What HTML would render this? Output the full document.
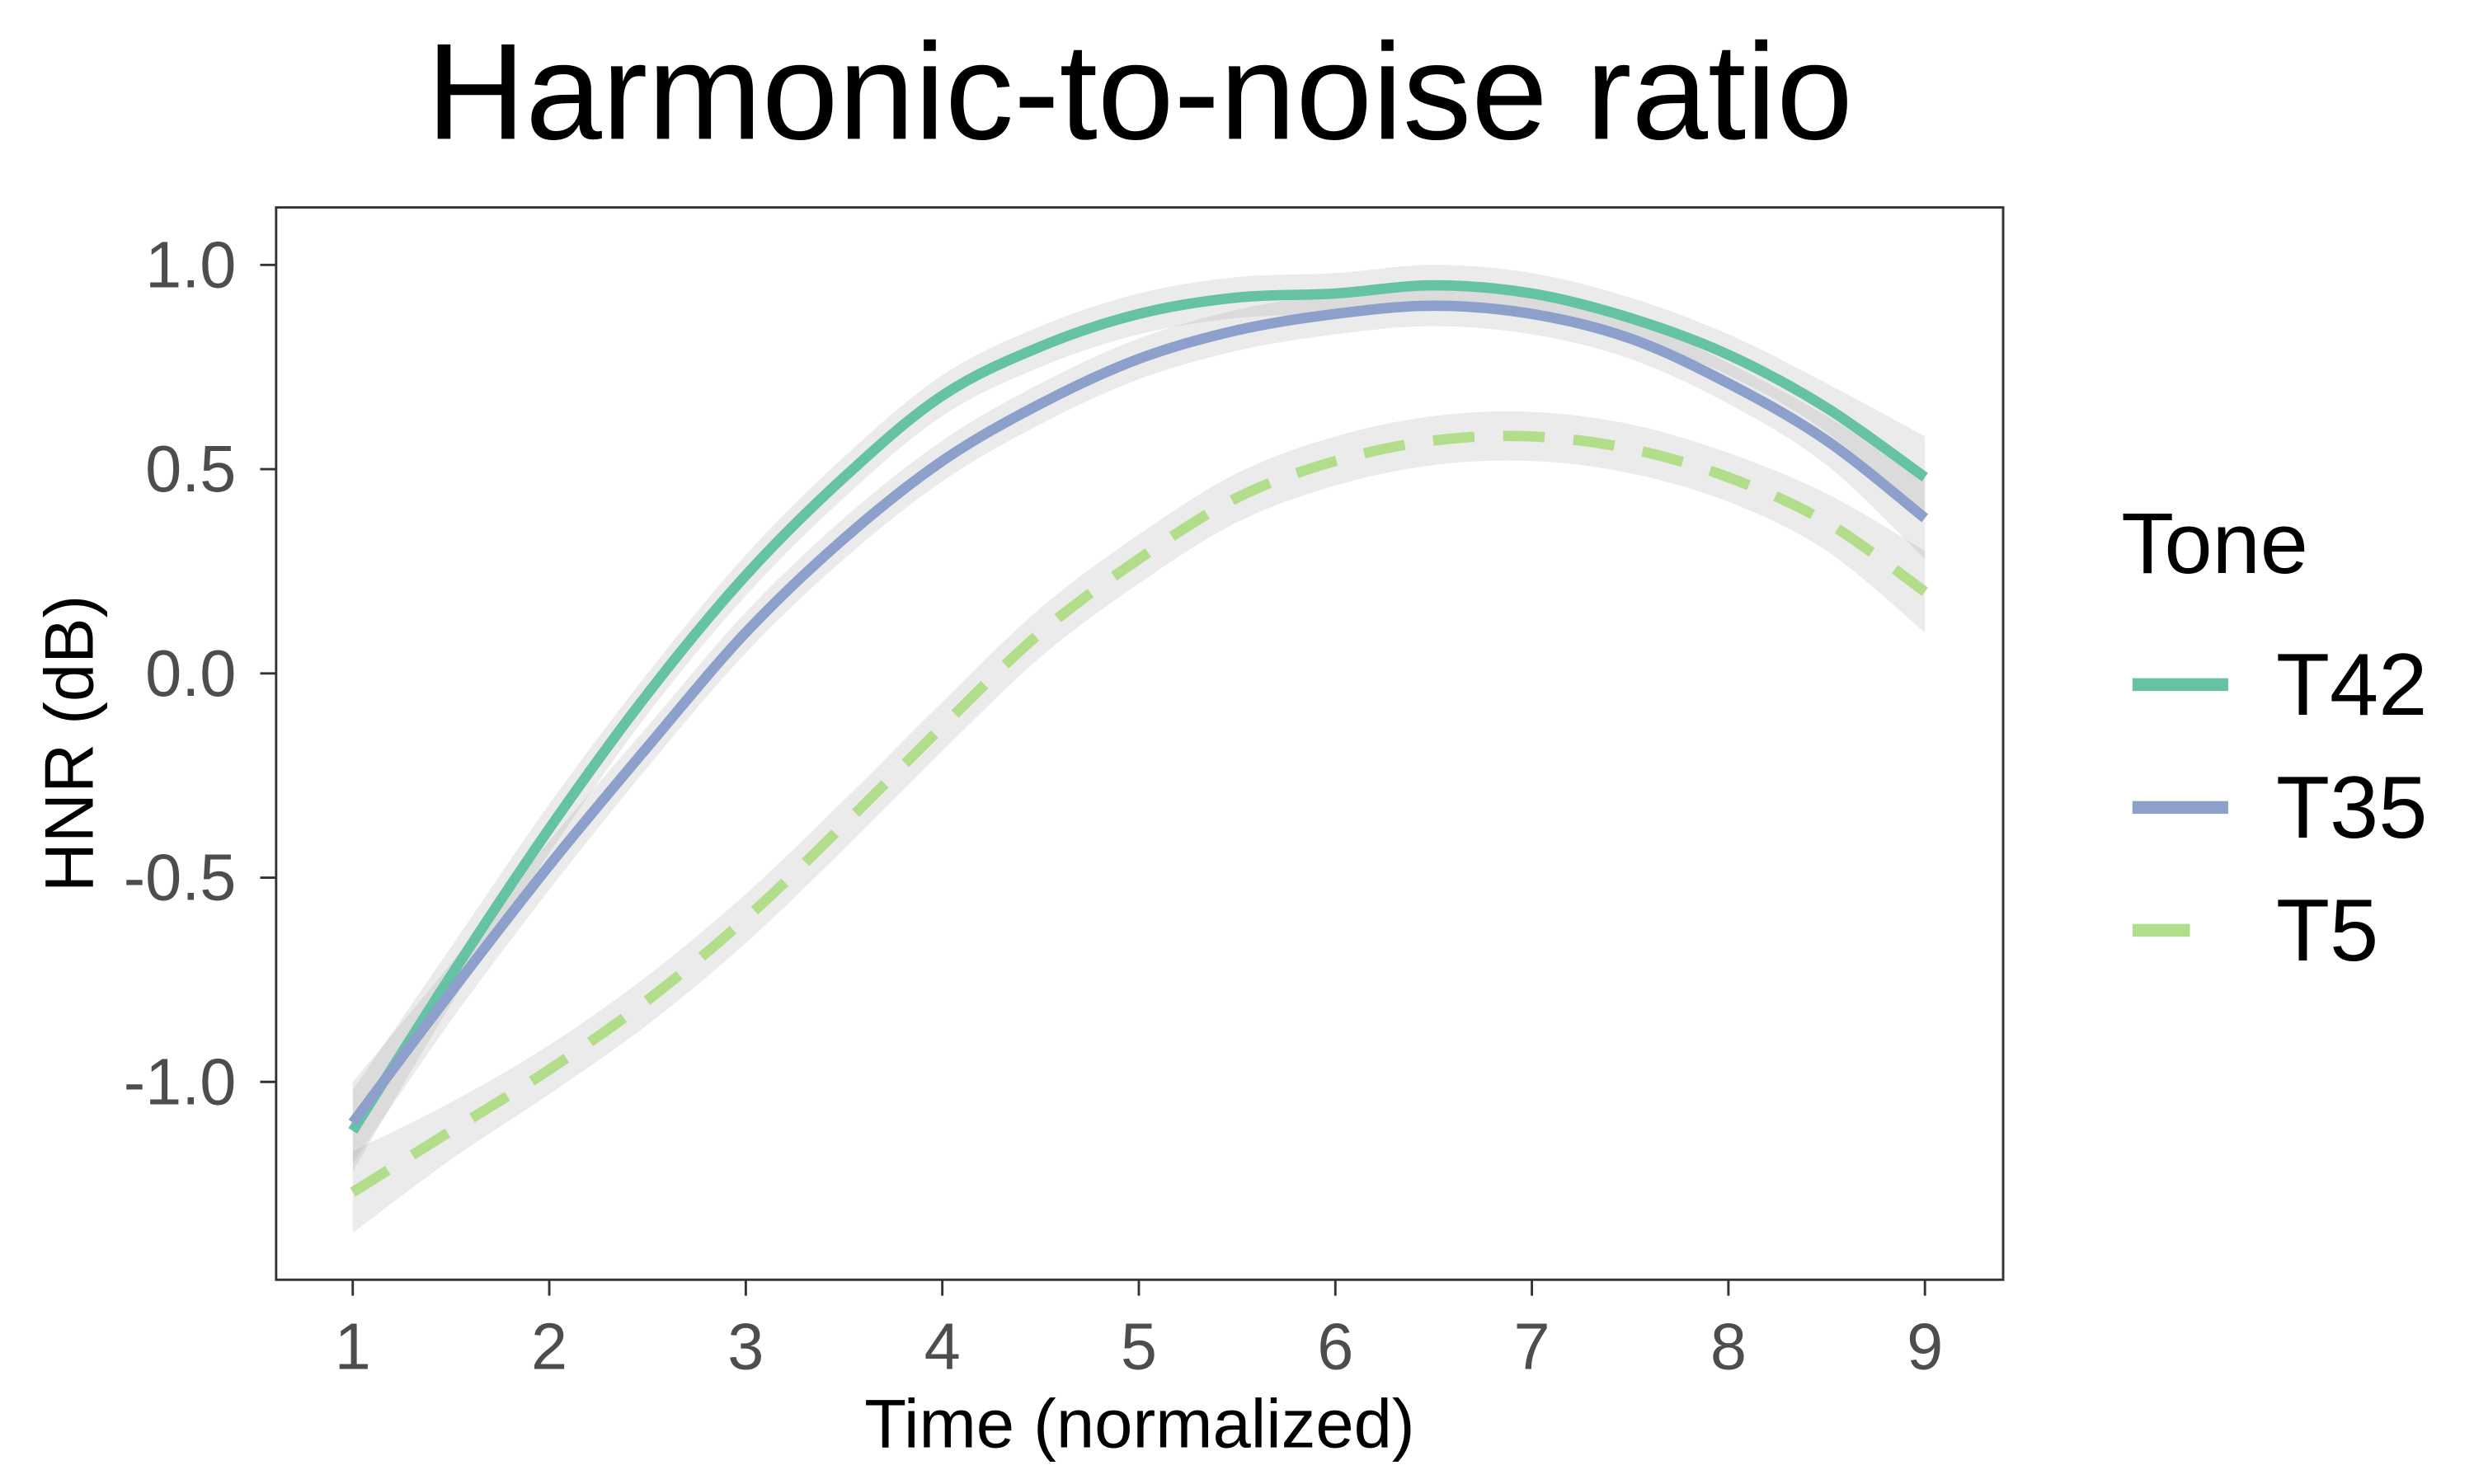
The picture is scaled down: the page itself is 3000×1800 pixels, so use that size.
<!DOCTYPE html>
<html><head><meta charset="utf-8"><style>
html,body{margin:0;padding:0;background:#fff}
svg{display:block}
text{font-family:"Liberation Sans",Arial,sans-serif}
</style></head><body>
<svg id="chart" width="3000" height="1800" viewBox="0 0 1550 930" xmlns="http://www.w3.org/2000/svg">
<rect width="1550" height="930" fill="#fff"/>
<text x="714" y="87" font-size="86" text-anchor="middle" fill="#000">Harmonic-to-noise ratio</text>
<g id="ribbons"></g>
<g id="lines"></g>
<rect x="173" y="130" width="1082" height="672" fill="none" stroke="#333" stroke-width="1.5"/>
<g id="axes"></g>
<text x="714" y="907" font-size="43" text-anchor="middle" fill="#000">Time (normalized)</text>
<text transform="translate(58,466) rotate(-90)" font-size="43" text-anchor="middle" fill="#000">HNR (dB)</text>
<g>
<text x="1329" y="359" font-size="54" fill="#000">Tone</text>
<line x1="1336" y1="429" x2="1396" y2="429" stroke="#66c2a5" stroke-width="8"/>
<text x="1426" y="448" font-size="55" fill="#000">T42</text>
<line x1="1336" y1="506" x2="1396" y2="506" stroke="#8da0cb" stroke-width="8"/>
<text x="1426" y="525" font-size="55" fill="#000">T35</text>
<line x1="1336" y1="583" x2="1372" y2="583" stroke="#b2de8b" stroke-width="8"/>
<text x="1426" y="602" font-size="55" fill="#000">T5</text>
</g>
</svg>
<script>
const times = [1,1.5,2,2.5,3,3.5,4,4.5,5,5.5,6,6.5,7,7.5,8,8.5,9];
const t42 = [-1.12,-0.74,-0.38,-0.05,0.24,0.48,0.68,0.8,0.88,0.92,0.93,0.95,0.93,0.87,0.78,0.65,0.48];
const t35 = [-1.1,-0.78,-0.47,-0.18,0.1,0.33,0.52,0.66,0.77,0.84,0.88,0.9,0.88,0.82,0.71,0.57,0.38];
const t5 = [-1.27,-1.12,-0.97,-0.8,-0.6,-0.37,-0.13,0.1,0.28,0.43,0.52,0.57,0.58,0.55,0.48,0.37,0.2];
const se42 = [0.1,0.07,0.06,0.05,0.05,0.05,0.05,0.05,0.05,0.05,0.05,0.05,0.05,0.05,0.05,0.06,0.1];
const se35 = [0.1,0.07,0.06,0.05,0.05,0.05,0.05,0.05,0.05,0.05,0.05,0.05,0.05,0.05,0.05,0.06,0.1];
const se5 = [0.1,0.07,0.06,0.06,0.06,0.06,0.06,0.06,0.06,0.06,0.06,0.06,0.06,0.06,0.06,0.07,0.1];
const xTicks = [1,2,3,4,5,6,7,8,9];
const yTicks = [-1.0,-0.5,0.0,0.5,1.0];
const yTickLabels = ["-1.0","-0.5","0.0","0.5","1.0"];

const NS="http://www.w3.org/2000/svg";
const xs = v => 221 + (v-1)*(1206-221)/8;
const ys = v => 422 - v*256;
function mk(tag, attrs, parent){const e=document.createElementNS(NS,tag);for(const k in attrs)e.setAttribute(k,attrs[k]);parent.appendChild(e);return e;}
function smooth(pts){
  let d=`M${pts[0][0]},${pts[0][1]}`;
  for(let i=0;i<pts.length-1;i++){
    const p0=pts[Math.max(0,i-1)],p1=pts[i],p2=pts[i+1],p3=pts[Math.min(pts.length-1,i+2)];
    const c1=[p1[0]+(p2[0]-p0[0])/6,p1[1]+(p2[1]-p0[1])/6];
    const c2=[p2[0]-(p3[0]-p1[0])/6,p2[1]-(p3[1]-p1[1])/6];
    d+=` C${c1[0]},${c1[1]} ${c2[0]},${c2[1]} ${p2[0]},${p2[1]}`;
  }
  return d;
}
const series=[
 {name:'t42',v:t42,se:se42,c:'#66c2a5',dash:null},
 {name:'t35',v:t35,se:se35,c:'#8da0cb',dash:null},
 {name:'t5',v:t5,se:se5,c:'#b2de8b',dash:'26 18'}
];
const rg=document.getElementById('ribbons'), lg=document.getElementById('lines'), ag=document.getElementById('axes');
series.forEach(s=>{
  const up=times.map((t,i)=>[xs(t),ys(s.v[i]+s.se[i])]);
  const lo=times.map((t,i)=>[xs(t),ys(s.v[i]-s.se[i])]).reverse();
  const d=smooth(up)+' L'+smooth(lo).slice(1)+' Z';
  const r=mk('path',{d:d,fill:'#999',opacity:'0.2'},rg);
  
  
});
series.forEach(s=>{
  const pts=times.map((t,i)=>[xs(t),ys(s.v[i])]);
  const a={d:smooth(pts),fill:'none',stroke:s.c,'stroke-width':'6.5'};
  if(s.dash)a['stroke-dasharray']=s.dash;
  const p=mk('path',a,lg);
  
  
});
xTicks.forEach(t=>{
  const l=mk('line',{x1:xs(t),x2:xs(t),y1:802,y2:812,stroke:'#333','stroke-width':'1.5'},ag);
  
  
  const tx=mk('text',{x:xs(t),y:858,'font-size':'41','text-anchor':'middle',fill:'#4d4d4d'},ag);
  tx.textContent=t;
  
  
});
yTicks.forEach((t,i)=>{
  const l=mk('line',{x1:163,x2:173,y1:ys(t),y2:ys(t),stroke:'#333','stroke-width':'1.5'},ag);
  
  
  const tx=mk('text',{x:148,y:ys(t)+14,'font-size':'41','text-anchor':'end',fill:'#4d4d4d'},ag);
  tx.textContent=yTickLabels[i];
  
  
});
</script>
</body></html>
